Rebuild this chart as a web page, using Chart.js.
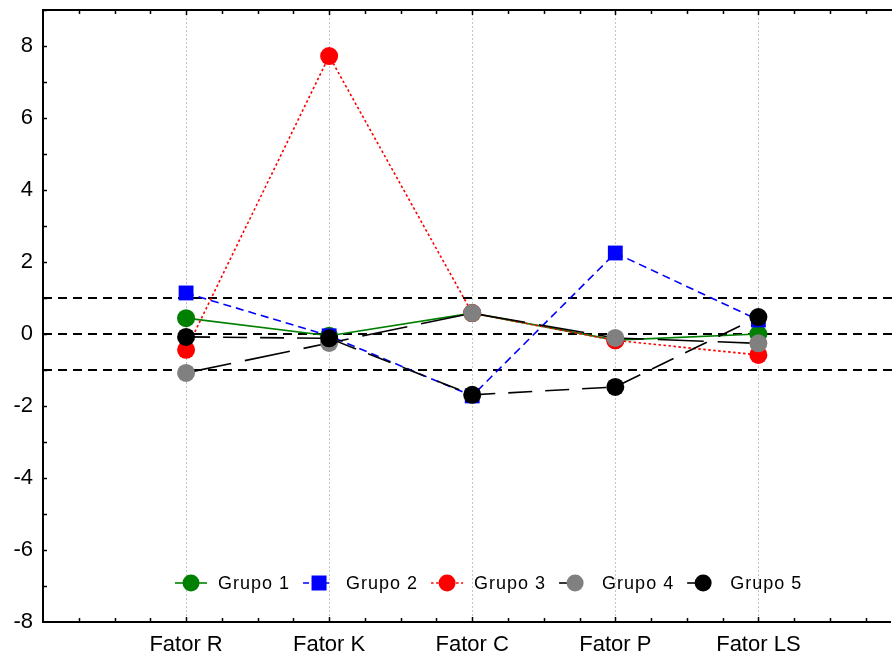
<!DOCTYPE html>
<html>
<head>
<meta charset="utf-8">
<script src="https://cdn.jsdelivr.net/npm/chart.js@4/dist/chart.umd.min.js"></script>
<style>
  html, body { margin: 0; padding: 0; background: #fff; }
  #wrap { width: 892px; height: 659px; }
</style>
</head>
<body>
<div id="wrap"><canvas id="c" width="892" height="659"></canvas></div>
<script>
// Factor names along the horizontal axis
const categories = ['Fator R', 'Fator K', 'Fator C', 'Fator P', 'Fator LS'];

// Mean score of each group on each factor
const grupo1 = [0.44, -0.05, 0.58, -0.17, 0.00];
const grupo2 = [1.14, -0.05, -1.72, 2.25, 0.39];
const grupo3 = [-0.44, 7.72, 0.58, -0.18, -0.58];
const grupo4 = [-1.08, -0.25, 0.58, -0.11, -0.26];
const grupo5 = [-0.08, -0.12, -1.69, -1.47, 0.47];

const seriesNames = ['Grupo 1', 'Grupo 2', 'Grupo 3', 'Grupo 4', 'Grupo 5'];

// Horizontal reference levels
const referenceLines = [-1, 0, 1];

// Value axis range and labelled step
const yMin = -8, yMax = 9, yLabelStep = 2;

const FONT = '"Liberation Sans", Arial, Helvetica, sans-serif';

function pts(values) {
  return values.map((v, i) => ({ x: i + 1, y: v }));
}

const styles = [
  { line: '#008000', fill: '#008000', dash: [], shape: 'circle', r: 9, legendDash: [] },
  { line: '#0000ff', fill: '#0000ff', dash: [8, 5], shape: 'rect', r: 10.5, legendDash: [6, 14, 6, 20] },
  { line: '#ff0000', fill: '#ff0000', dash: [2.5, 2.5], shape: 'circle', r: 9, legendDash: [2.5, 2.5] },
  { line: '#000000', fill: '#808080', dash: [46, 14], shape: 'circle', r: 9, legendDash: [12, 40] },
  { line: '#000000', fill: '#000000', dash: [24, 13], shape: 'circle', r: 9, legendDash: [12, 40] }
];

const seriesValues = [grupo1, grupo2, grupo3, grupo4, grupo5];

const datasets = seriesValues.map((vals, i) => ({
  label: seriesNames[i],
  data: pts(vals),
  borderColor: styles[i].line,
  backgroundColor: styles[i].fill,
  borderWidth: 1.6,
  borderDash: styles[i].dash,
  pointStyle: styles[i].shape,
  pointRadius: styles[i].r,
  pointHoverRadius: styles[i].r,
  pointBackgroundColor: styles[i].fill,
  pointBorderColor: styles[i].fill,
  pointBorderWidth: 0,
  tension: 0,
  fill: false,
  // later groups are drawn on top
  order: seriesValues.length - i
}));

// Dotted category guides, dashed reference levels and frame
const framePlugin = {
  id: 'frame',
  beforeDatasetsDraw(chart) {
    const { ctx, chartArea: a, scales: { x, y } } = chart;
    ctx.save();
    // category guides
    ctx.strokeStyle = '#c4c4c4';
    ctx.lineWidth = 1;
    ctx.setLineDash([2, 2]);
    categories.forEach((c, i) => {
      const px = Math.round(x.getPixelForValue(i + 1)) + 0.5;
      ctx.beginPath();
      ctx.moveTo(px, a.top);
      ctx.lineTo(px, a.bottom);
      ctx.stroke();
    });
    // reference levels
    ctx.strokeStyle = '#000';
    ctx.lineWidth = 2;
    ctx.setLineDash([9, 6]);
    referenceLines.forEach(v => {
      const py = Math.round(y.getPixelForValue(v));
      ctx.beginPath();
      ctx.moveTo(a.left, py);
      ctx.lineTo(chart.width, py);
      ctx.stroke();
    });
    ctx.restore();
  },
  afterDraw(chart) {
    const { ctx, chartArea: a, scales: { x, y } } = chart;
    ctx.save();
    ctx.setLineDash([]);
    ctx.strokeStyle = '#000';
    // top frame line
    ctx.lineWidth = 2;
    ctx.beginPath();
    ctx.moveTo(a.left - 1, a.top);
    ctx.lineTo(chart.width, a.top);
    ctx.stroke();
    // inward tick marks
    ctx.lineWidth = 1.5;
    for (let v = 0.25; v <= x.max + 1e-9; v += 0.25) {
      const px = Math.round(x.getPixelForValue(v)) + 0.5;
      const major = Math.abs(v - Math.round(v)) < 1e-9;
      const len = major ? 5 : 4;
      ctx.beginPath();
      ctx.moveTo(px, a.bottom);
      ctx.lineTo(px, a.bottom - len);
      ctx.moveTo(px, a.top);
      ctx.lineTo(px, a.top + len);
      ctx.stroke();
    }
    for (let v = yMin + 1; v <= yMax; v += 1) {
      const py = Math.round(y.getPixelForValue(v)) + 0.5;
      ctx.beginPath();
      ctx.moveTo(a.left, py);
      ctx.lineTo(a.left + 4, py);
      ctx.stroke();
    }
    ctx.restore();
  }
};

// Legend inside the plot, each entry a line sample with its marker
const legendPlugin = {
  id: 'innerLegend',
  afterDraw(chart) {
    const { ctx } = chart;
    ctx.save();
    ctx.font = '18px ' + FONT;
    if ('letterSpacing' in ctx) ctx.letterSpacing = '1px';
    ctx.textBaseline = 'middle';
    const cy = 583;
    const sample = 32, textGap = 11, itemGap = 13;
    const widths = chart.data.datasets.map(d => sample + textGap + ctx.measureText(d.label).width);
    let x0 = 175;
    chart.data.datasets.forEach((d, i) => {
      const st = styles[i];
      ctx.strokeStyle = st.line;
      ctx.lineWidth = 1.6;
      ctx.setLineDash(st.legendDash);
      ctx.beginPath();
      ctx.moveTo(x0, cy);
      ctx.lineTo(x0 + sample, cy);
      ctx.stroke();
      ctx.setLineDash([]);
      ctx.fillStyle = st.fill;
      const mx = x0 + sample / 2;
      if (st.shape === 'rect') {
        ctx.fillRect(mx - 7.5, cy - 7.5, 15, 15);
      } else {
        ctx.beginPath();
        ctx.arc(mx, cy, 8.5, 0, Math.PI * 2);
        ctx.fill();
      }
      ctx.fillStyle = '#000';
      ctx.fillText(d.label, x0 + sample + textGap, cy + 1);
      x0 += widths[i] + itemGap;
    });
    ctx.restore();
  }
};

new Chart(document.getElementById('c'), {
  type: 'line',
  data: { datasets },
  options: {
    responsive: false,
    animation: false,
    events: [],
    layout: { autoPadding: false, padding: { top: 10, right: 2, left: 0, bottom: 0 } },
    plugins: { legend: { display: false }, tooltip: { enabled: false } },
    scales: {
      x: {
        type: 'linear',
        min: 0,
        max: 5.92,
        grid: { display: false, drawTicks: false },
        border: { display: true, color: '#000', width: 2 },
        afterBuildTicks(scale) {
          scale.ticks = categories.map((c, i) => ({ value: i + 1 }));
        },
        afterFit(scale) {
          scale.height = 37;
          scale.paddingLeft = 0;
          scale.paddingRight = 0;
        },
        ticks: {
          autoSkip: false,
          maxRotation: 0,
          padding: 10,
          color: '#000',
          font: { family: FONT, size: 22 },
          callback: v => categories[Math.round(v) - 1] || ''
        }
      },
      y: {
        min: yMin,
        max: yMax,
        grid: { display: false, drawTicks: false },
        border: { display: true, color: '#000', width: 2 },
        afterFit(scale) {
          scale.width = 43;
          scale.paddingTop = 0;
          scale.paddingBottom = 0;
        },
        ticks: {
          stepSize: 1,
          autoSkip: false,
          padding: 10,
          color: '#000',
          font: { family: FONT, size: 22 },
          callback: v => (v % yLabelStep === 0 ? String(v) : '')
        }
      }
    }
  },
  plugins: [framePlugin, legendPlugin]
});
</script>
</body>
</html>
